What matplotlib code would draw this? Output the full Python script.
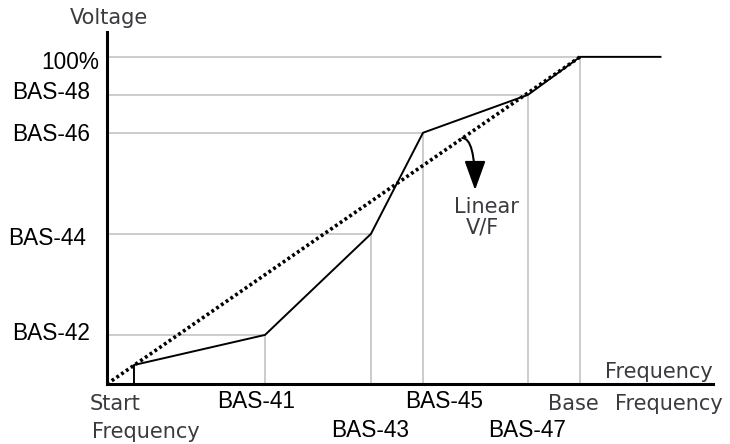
import matplotlib.pyplot as plt
from matplotlib.patches import FancyArrowPatch

# frequency points (% of base frequency) and voltage points (% of max)
freq_labels = ["Start\nFrequency", "BAS-41", "BAS-43", "BAS-45", "BAS-47", "Base Frequency"]
freq = [5.7, 33.4, 55.8, 66.8, 89.0, 100.0]
volt_labels = ["", "BAS-42", "BAS-44", "BAS-46", "BAS-48", "100%"]
volt = [5.8, 15.0, 45.9, 76.8, 88.4, 100.0]
freq_end = 117.0

fig = plt.figure(figsize=(7.3, 4.44), dpi=100)
ax = fig.add_axes([107 / 730, 60 / 444, 606 / 730, 352 / 444])
ax.set_xlim(0, 128.1)
ax.set_ylim(0, 107.6)
for s in ["top", "right"]:
    ax.spines[s].set_visible(False)
for s in ["left", "bottom"]:
    ax.spines[s].set_linewidth(2.2)
ax.set_xticks([])
ax.set_yticks([])

grid_c = "#c8c8c8"
for f, v in zip(freq[1:], volt[1:]):
    ax.plot([0, f], [v, v], color=grid_c, lw=1.3, zorder=1)
    ax.plot([f, f], [0, v], color=grid_c, lw=1.3, zorder=1)

# user V/F curve
xs = [freq[0]] + freq + [freq_end]
ys = [0] + volt + [volt[-1]]
ax.plot(xs, ys, color="black", lw=1.4, zorder=3)

# linear V/F
ax.plot([0, freq[-1]], [0, volt[-1]], color="black", lw=2.6,
        linestyle=(0, (0.8, 0.8)), zorder=2)

arrow = FancyArrowPatch((75.1, 75.2), (77.8, 59.3),
                        connectionstyle="angle3,angleA=0,angleB=90",
                        arrowstyle="-|>,head_width=6.5,head_length=18",
                        shrinkA=0, shrinkB=0,
                        lw=1.5, color="black", zorder=4)
ax.add_patch(arrow)

kor = dict(family="DejaVu Sans", size=15, color="#3a3a40")
bas = dict(family="Liberation Sans", size=16.3, color="black")

ax.text(80.3, 54.1, "Linear", ha="center", va="center", **kor)
ax.text(79.3, 47.7, "V/F", ha="center", va="center", **kor)
ax.text(0.4, 111.9, "Voltage", ha="center", va="center", clip_on=False, **kor)
ax.text(128.1, 1.8, "Frequency", ha="right", va="baseline", **kor)

# y labels
y_off = [0, 0.4, -1.3, -0.6, 0.75, -1.8]
x_pos = [0, -3.6, -4.4, -3.6, -3.6, -1.7]
for lab, v, dy, xp in zip(volt_labels[1:], volt[1:], y_off[1:], x_pos[1:]):
    ax.text(xp, v + dy, lab, ha="right", va="center", clip_on=False, **bas)

# x labels
ax.text(-3.6, -6.1, "Start", ha="left", va="center", clip_on=False, **kor)
ax.text(-3.2, -14.6, "Frequency", ha="left", va="center", clip_on=False, **kor)
ax.text(31.5, -5.5, freq_labels[1], ha="center", va="center", clip_on=False, **bas)
ax.text(55.6, -14.1, freq_labels[2], ha="center", va="center", clip_on=False, **bas)
ax.text(71.2, -5.5, freq_labels[3], ha="center", va="center", clip_on=False, **bas)
ax.text(88.8, -14.1, freq_labels[4], ha="center", va="center", clip_on=False, **bas)
base_word, freq_word = freq_labels[5].split(" ")
ax.text(93.2, -6.1, base_word, ha="left", va="center", clip_on=False, **kor)
ax.text(107.4, -6.1, freq_word, ha="left", va="center", clip_on=False, **kor)

fig.savefig("out.png", dpi=100)
